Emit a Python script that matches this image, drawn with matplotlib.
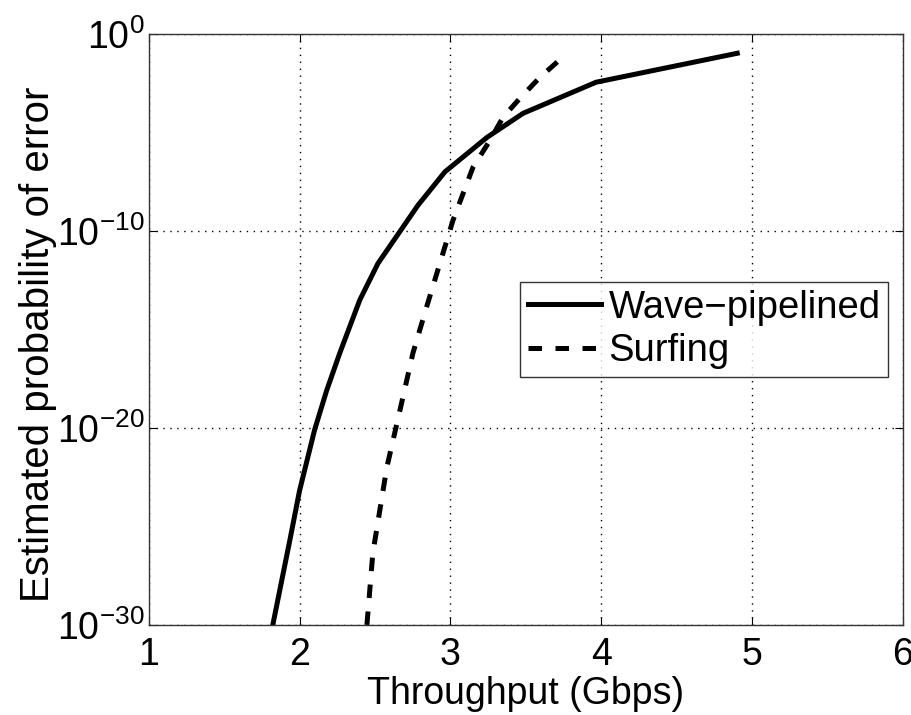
import numpy as np
import matplotlib
matplotlib.use("Agg")
import matplotlib.pyplot as plt

plt.rcParams['font.family'] = ['Liberation Sans', 'DejaVu Sans']
plt.rcParams['mathtext.fontset'] = 'custom'
plt.rcParams['mathtext.rm'] = 'Liberation Sans'
plt.rcParams['mathtext.it'] = 'Liberation Sans'

# throughput (Gbps) and log10 of estimated error probability
wave_x = [1.823, 1.936, 2.00, 2.10, 2.18, 2.267, 2.40, 2.52, 2.785, 2.964, 3.243, 3.482, 3.966, 4.902]
wave_logp = [-30.0, -25.7, -23.2, -20.1, -18.1, -16.2, -13.5, -11.65, -8.7, -7.0, -5.25, -4.03, -2.45, -0.98]

surf_x = [2.447, 2.486, 2.579, 2.666, 2.752, 2.845, 3.017, 3.150, 3.263, 3.349, 3.462, 3.594, 3.774]
surf_logp = [-30.0, -26.36, -22.0, -19.1, -16.2, -13.8, -9.47, -6.77, -5.4, -4.23, -3.26, -2.2, -0.98]

fig = plt.figure(figsize=(9.12, 7.15), dpi=100)
ax = fig.add_axes([0.163, 0.126, 0.827, 0.8265])

ax.semilogy(wave_x, 10.0 ** np.array(wave_logp), color='black', lw=3.6,
            solid_joinstyle='miter', label='Wave\u2212pipelined')
ax.semilogy(surf_x, 10.0 ** np.array(surf_logp), color='black', lw=3.6,
            linestyle=(0, (2.7, 2.7)), dash_capstyle='butt', label='Surfing')

ax.set_xlim(1, 6)
ax.set_ylim(1e-30, 1e0)
ax.set_xticks([1, 2, 3, 4, 5, 6])
ax.set_yticks([1e-30, 1e-20, 1e-10, 1e0])
ax.minorticks_off()
ax.grid(True, which='major', color='black', linestyle=(0, (1, 4)), linewidth=1.0)

ax.tick_params(direction='in', length=6, width=0.8, top=True, right=True,
               labelsize=27)
ax.tick_params(axis='x', pad=9)
ax.tick_params(axis='y', pad=3)
for s in ax.spines.values():
    s.set_linewidth(1.0)
    s.set_color('#333333')

ax.set_xlabel('Throughput (Gbps)', fontsize=27, labelpad=2)
ax.set_ylabel('Estimated probability of error', fontsize=29)
ax.yaxis.set_label_coords(-0.122, 0.475)

leg = ax.legend(loc='upper left', bbox_to_anchor=(0.493, 0.58), fontsize=27.5,
                frameon=True, fancybox=False, edgecolor='black',
                handlelength=1.9, handletextpad=0.2, borderpad=0.2,
                labelspacing=0.2, borderaxespad=0)
leg.get_frame().set_linewidth(1.0)

fig.savefig('out.png', dpi=100)
